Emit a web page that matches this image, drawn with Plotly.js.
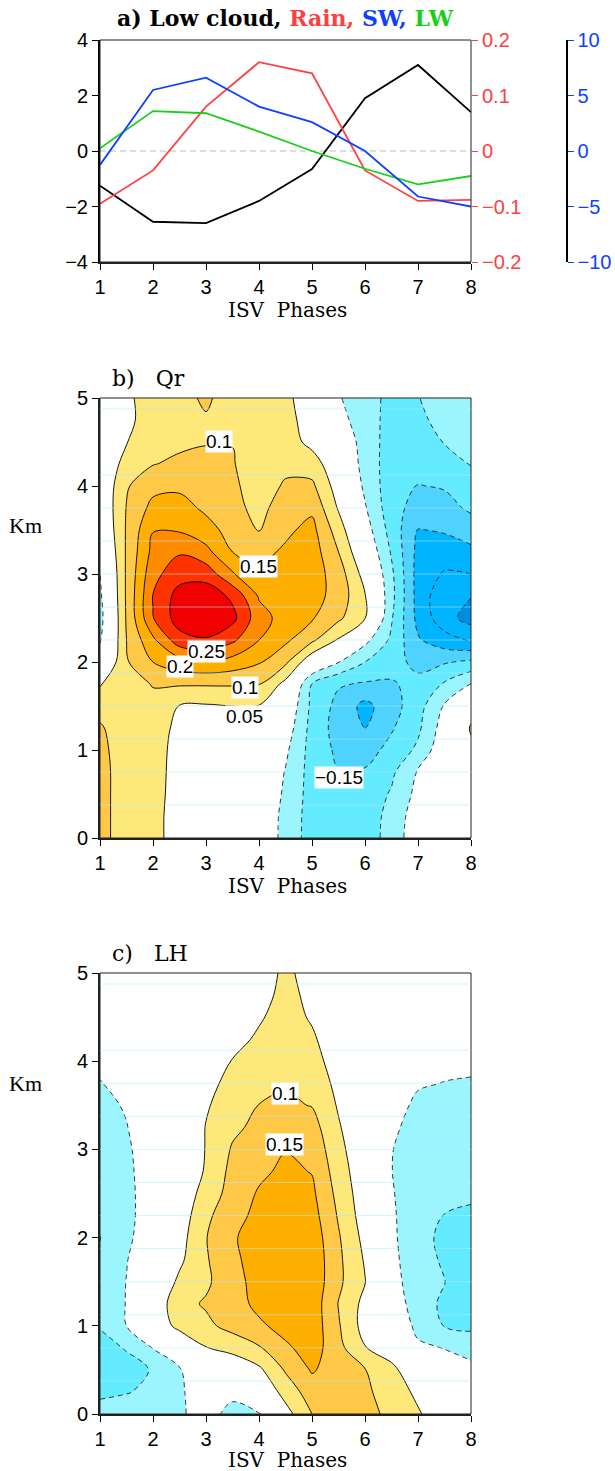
<!DOCTYPE html>
<html><head><meta charset="utf-8">
<script src="https://cdn.plot.ly/plotly-3.0.1.min.js"></script>
<style>html,body{margin:0;padding:0;background:#fff}#chart{width:615px;height:1471px}</style>
</head><body><div id="chart"></div>
<script>
// ---------- panel a data ----------
const phases = [1, 2, 3, 4, 5, 6, 7, 8];
const lowCloud = [-1.25, -2.55, -2.6, -1.8, -0.65, 1.9, 3.1, 1.4];      // left axis
const rain = [-0.095, -0.035, 0.08, 0.16, 0.14, -0.035, -0.09, -0.088]; // red axis
const sw = [-1.25, 5.5, 6.6, 4.0, 2.6, 0.0, -4.1, -5.0];                // blue axis
const lw = [0.25, 3.6, 3.4, 1.75, 0.0, -1.6, -3.0, -2.25];              // blue axis

// ---------- contour grids ----------
const gridPhase = [1, 1.5, 2, 2.5, 3, 3.5, 4, 4.5, 5, 5.5, 6, 6.5, 7, 7.5, 8];
const gridKm = [0, 0.25, 0.5, 0.75, 1, 1.25, 1.5, 1.75, 2, 2.25, 2.5, 2.75, 3, 3.25, 3.5, 3.75, 4, 4.25, 4.5, 4.75, 5];

// Qr profiles, one list per phase column (values from 0 km to 5 km)
const qrProfiles = [
 [0.12,0.12,0.12,0.12,0.115,0.105,0.085,0.045,-0.02,-0.055,-0.07,-0.06,-0.052,-0.03,-0.01,0.0,0.0,0.0,0.0,0.0,0.0],
 [0.07,0.07,0.07,0.07,0.07,0.075,0.08,0.085,0.095,0.1,0.105,0.107,0.107,0.106,0.105,0.102,0.095,0.07,0.048,0.04,0.044],
 [0.085,0.085,0.085,0.085,0.085,0.088,0.09,0.102,0.15,0.19,0.248,0.252,0.235,0.215,0.198,0.165,0.135,0.098,0.08,0.07,0.065],
 [0.0,0.0,0.01,0.015,0.02,0.03,0.048,0.105,0.18,0.28,0.325,0.32,0.28,0.245,0.195,0.17,0.14,0.11,0.09,0.085,0.09],
 [0.02,0.02,0.02,0.02,0.025,0.03,0.045,0.105,0.195,0.295,0.34,0.33,0.28,0.215,0.17,0.14,0.125,0.11,0.098,0.097,0.105],
 [0.02,0.02,0.02,0.02,0.025,0.035,0.05,0.105,0.18,0.26,0.315,0.29,0.205,0.15,0.13,0.115,0.108,0.103,0.099,0.09,0.085],
 [0.0,0.0,0.005,0.01,0.015,0.03,0.048,0.102,0.155,0.2,0.22,0.195,0.16,0.135,0.098,0.085,0.08,0.075,0.072,0.068,0.062],
 [-0.07,-0.068,-0.06,-0.053,-0.04,-0.02,0.0,0.035,0.11,0.16,0.18,0.18,0.17,0.158,0.14,0.125,0.105,0.09,0.075,0.065,0.058],
 [-0.12,-0.12,-0.12,-0.12,-0.12,-0.118,-0.112,-0.1,0.01,0.11,0.155,0.17,0.175,0.175,0.165,0.14,0.11,0.075,0.035,0.03,0.03],
 [-0.13,-0.135,-0.14,-0.148,-0.16,-0.17,-0.165,-0.145,-0.048,0.045,0.11,0.13,0.125,0.1,0.075,0.045,0.025,0.01,0.0,-0.03,-0.045],
 [-0.12,-0.125,-0.13,-0.145,-0.17,-0.2,-0.215,-0.155,-0.1,-0.035,0.052,0.053,0.03,0.0,-0.025,-0.045,-0.06,-0.07,-0.075,-0.08,-0.085],
 [-0.085,-0.085,-0.095,-0.11,-0.135,-0.155,-0.17,-0.155,-0.13,-0.11,-0.095,-0.085,-0.09,-0.105,-0.12,-0.13,-0.13,-0.125,-0.12,-0.115,-0.11],
 [-0.01,-0.02,-0.035,-0.045,-0.09,-0.11,-0.12,-0.135,-0.165,-0.195,-0.215,-0.22,-0.22,-0.215,-0.202,-0.17,-0.152,-0.13,-0.12,-0.11,-0.102],
 [0.0,0.0,0.0,-0.005,-0.01,-0.025,-0.045,-0.095,-0.155,-0.23,-0.28,-0.285,-0.255,-0.225,-0.195,-0.17,-0.145,-0.12,-0.098,-0.085,-0.075],
 [0.02,0.02,0.025,0.03,0.04,0.055,0.03,-0.048,-0.14,-0.255,-0.32,-0.298,-0.25,-0.21,-0.18,-0.14,-0.12,-0.098,-0.085,-0.075,-0.07]
];

// LH profiles, one list per phase column (values from 0 km to 5 km)
const lhProfiles = [
 [-0.09,-0.105,-0.115,-0.11,-0.098,-0.09,-0.09,-0.095,-0.101,-0.095,-0.09,-0.085,-0.08,-0.075,-0.065,-0.052,-0.04,-0.03,-0.025,-0.02,-0.02],
 [-0.08,-0.102,-0.11,-0.098,-0.05,-0.048,-0.049,-0.052,-0.06,-0.065,-0.065,-0.062,-0.058,-0.052,-0.045,-0.035,-0.025,-0.02,-0.015,-0.01,-0.01],
 [-0.075,-0.092,-0.098,-0.048,0.0,0.01,0.0,-0.015,-0.02,-0.02,-0.02,-0.02,-0.02,-0.015,-0.01,-0.01,-0.01,-0.005,0.0,0.0,0.0],
 [-0.06,-0.065,-0.055,-0.02,0.07,0.085,0.06,0.04,0.03,0.02,0.015,0.01,0.01,0.0,0.0,0.0,0.0,0.0,0.0,0.0,0.0],
 [-0.02,0.01,0.025,0.048,0.09,0.105,0.092,0.095,0.098,0.09,0.07,0.055,0.052,0.052,0.045,0.035,0.025,0.015,0.01,0.005,0.0],
 [-0.075,-0.03,0.0,0.07,0.115,0.125,0.13,0.14,0.145,0.13,0.12,0.115,0.105,0.09,0.075,0.065,0.052,0.035,0.025,0.015,0.01],
 [-0.055,0.0,0.04,0.095,0.14,0.165,0.17,0.17,0.17,0.165,0.155,0.14,0.125,0.112,0.101,0.085,0.07,0.057,0.045,0.035,0.03],
 [0.03,0.07,0.105,0.14,0.17,0.185,0.19,0.19,0.185,0.18,0.17,0.16,0.148,0.128,0.108,0.095,0.085,0.075,0.068,0.062,0.058],
 [0.1,0.125,0.155,0.175,0.18,0.18,0.185,0.185,0.18,0.17,0.16,0.148,0.135,0.12,0.098,0.085,0.07,0.057,0.045,0.04,0.035],
 [0.13,0.13,0.125,0.115,0.105,0.098,0.11,0.11,0.105,0.095,0.085,0.075,0.065,0.055,0.045,0.035,0.025,0.02,0.015,0.01,0.005],
 [0.12,0.11,0.102,0.052,0.03,0.035,0.052,0.045,0.035,0.025,0.02,0.015,0.01,0.005,0.0,0.0,-0.005,-0.01,-0.01,-0.01,-0.01],
 [0.085,0.075,0.06,0.03,0.0,-0.02,-0.03,-0.035,-0.04,-0.042,-0.046,-0.049,-0.048,-0.04,-0.03,-0.02,-0.015,-0.01,-0.01,-0.01,-0.01],
 [0.055,0.04,0.02,-0.04,-0.065,-0.075,-0.08,-0.085,-0.085,-0.085,-0.08,-0.078,-0.075,-0.07,-0.06,-0.045,-0.035,-0.03,-0.025,-0.02,-0.02],
 [0.02,0.01,-0.01,-0.052,-0.102,-0.11,-0.099,-0.105,-0.11,-0.101,-0.09,-0.085,-0.08,-0.075,-0.065,-0.051,-0.04,-0.035,-0.03,-0.025,-0.025],
 [0.0,-0.01,-0.035,-0.07,-0.11,-0.12,-0.12,-0.12,-0.115,-0.105,-0.095,-0.09,-0.085,-0.075,-0.065,-0.052,-0.045,-0.04,-0.035,-0.03,-0.03]
];

// contour label texts and positions (phase, km)
const qrLabels = [
 {t: '0.1', x: 3.25, y: 4.5}, {t: '0.15', x: 3.99, y: 3.08}, {t: '0.2', x: 2.5, y: 1.95},
 {t: '0.25', x: 3.0, y: 2.12}, {t: '0.1', x: 3.73, y: 1.71}, {t: '0.05', x: 3.73, y: 1.38},
 {t: '\u22120.15', x: 5.51, y: 0.69}
];
const lhLabels = [{t: '0.1', x: 4.49, y: 3.63}, {t: '0.15', x: 4.49, y: 3.05}];
const faintLevels = [0.375, 0.75, 1.125, 1.5, 1.875, 2.25, 2.625, 3.0, 3.375, 3.75, 4.125, 4.875];

// ---------- styling ----------
const bandColors = [
 'rgb(0,140,225)', 'rgb(0,180,255)', 'rgb(0,180,255)', 'rgb(80,210,255)', 'rgb(100,235,255)', 'rgb(155,245,255)',
 'rgb(255,255,255)', 'rgb(255,255,255)',
 'rgb(255,232,122)', 'rgb(255,200,70)', 'rgb(255,175,0)', 'rgb(255,140,0)', 'rgb(255,50,0)', 'rgb(240,0,0)'
];
const nB = bandColors.length;
const colorscale = [];
bandColors.forEach((c, k) => {
  const a = k === 0 ? 0 : (k - 0.5) / (nB - 1);
  const b = k === nB - 1 ? 1 : (k + 0.5) / (nB - 1);
  colorscale.push([a, c]); colorscale.push([b, c]);
});

const tickFont = {family: 'Liberation Sans Narrow, Liberation Sans, Arial Narrow, sans-serif', size: 20, color: '#000'};
const serifFont = 'DejaVu Serif, Liberation Serif, serif';
const W = 615, H = 1471;
const px = v => v / W, py = v => 1 - v / H;
const xDom = [px(100), px(471)];

function fillTrace(prof, xa, ya) {
  return {type: 'contour', x: gridPhase, y: gridKm, z: prof, transpose: true, xaxis: xa, yaxis: ya,
    colorscale: colorscale, showscale: false, hoverinfo: 'skip',
    contours: {start: -0.3, end: 0.3, size: 0.05, coloring: 'fill', showlines: false},
    line: {width: 0}};
}
function lineTrace(prof, xa, ya, lo, hi, dash) {
  return {type: 'contour', x: gridPhase, y: gridKm, z: prof, transpose: true, xaxis: xa, yaxis: ya,
    showscale: false, hoverinfo: 'skip',
    contours: {start: lo, end: hi, size: 0.05, coloring: 'none'},
    line: {color: dash ? '#222' : '#000', width: 0.9, dash: dash ? '5px,4px' : 'solid'}};
}

const traces = [
  {x: phases, y: phases.map(() => 0), mode: 'lines', line: {color: '#bbb', width: 1.2, dash: '6px,4px'}, xaxis: 'x', yaxis: 'y', hoverinfo: 'skip'},
  {x: phases, y: lw, mode: 'lines', line: {color: '#18d018', width: 1.8}, xaxis: 'x', yaxis: 'y3'},
  {x: phases, y: sw, mode: 'lines', line: {color: '#1040ff', width: 1.8}, xaxis: 'x', yaxis: 'y3'},
  {x: phases, y: rain, mode: 'lines', line: {color: '#ff4040', width: 1.8}, xaxis: 'x', yaxis: 'y2'},
  {x: phases, y: lowCloud, mode: 'lines', line: {color: '#000', width: 1.8}, xaxis: 'x', yaxis: 'y'},
  fillTrace(qrProfiles, 'x2', 'y4'),
  lineTrace(qrProfiles, 'x2', 'y4', 0.05, 0.3, false),
  lineTrace(qrProfiles, 'x2', 'y4', -0.3, -0.05, true),
  fillTrace(lhProfiles, 'x3', 'y5'),
  lineTrace(lhProfiles, 'x3', 'y5', 0.05, 0.3, false),
  lineTrace(lhProfiles, 'x3', 'y5', -0.3, -0.05, true)
];

function xAxis(anchor) {
  return {domain: xDom, anchor: anchor, range: [1, 8], tickvals: phases, ticks: 'outside', ticklen: 6,
    tickcolor: '#000', showgrid: false, zeroline: false, showline: true, linewidth: 2, linecolor: '#222',
    tickfont: tickFont, fixedrange: true};
}
function kmAxis(top, bottom, anchor) {
  return {domain: [py(bottom), py(top)], anchor: anchor, range: [0, 5], dtick: 1, ticks: 'outside', ticklen: 6,
    tickcolor: '#000', showgrid: false, zeroline: false, showline: true, linewidth: 2, linecolor: '#222',
    tickfont: tickFont, fixedrange: true};
}

const ann = [];
ann.push({xref: 'paper', yref: 'paper', x: px(285), y: py(18), xanchor: 'center', yanchor: 'middle', showarrow: false,
  text: '<b>a)\u00a0Low\u00a0cloud,\u00a0<span style="color:#ff4040">Rain,</span>\u00a0<span style="color:#1040ff">SW,</span>\u00a0<span style="color:#18d018">LW</span></b>',
  font: {family: serifFont, size: 22, color: '#000'}});
[310, 886, 1460].forEach(y => ann.push({xref: 'paper', yref: 'paper', x: px(287), y: py(y), xanchor: 'center', yanchor: 'middle',
  showarrow: false, text: 'ISV\u00a0 Phases', font: {family: serifFont, size: 20, color: '#000'}}));
ann.push({xref: 'paper', yref: 'paper', x: px(110), y: py(378), xanchor: 'left', yanchor: 'middle', showarrow: false, text: 'b)\u00a0\u00a0 Qr', font: {family: serifFont, size: 22, color: '#000'}});
ann.push({xref: 'paper', yref: 'paper', x: px(110), y: py(953), xanchor: 'left', yanchor: 'middle', showarrow: false, text: 'c)\u00a0\u00a0 LH', font: {family: serifFont, size: 22, color: '#000'}});
[525, 1083].forEach(y => ann.push({xref: 'paper', yref: 'paper', x: px(25), y: py(y), xanchor: 'center', yanchor: 'middle', showarrow: false,
  text: 'Km', font: {family: 'Liberation Serif, Times New Roman, serif', size: 22, color: '#000'}}));
const labFont = {family: 'Liberation Sans Narrow, Liberation Sans, sans-serif', size: 19, color: '#000'};
qrLabels.forEach(l => ann.push({xref: 'x2', yref: 'y4', x: l.x, y: l.y, text: l.t, showarrow: false, bgcolor: '#fff', borderpad: 0, font: labFont}));
lhLabels.forEach(l => ann.push({xref: 'x3', yref: 'y5', x: l.x, y: l.y, text: l.t, showarrow: false, bgcolor: '#fff', borderpad: 0, font: labFont}));

const shapes = [];
[['x', 'y'], ['x2', 'y4'], ['x3', 'y5']].forEach(([xa, ya]) => shapes.push({type: 'rect', xref: xa + ' domain', yref: ya + ' domain',
  x0: 0, x1: 1, y0: 0, y1: 1, line: {color: '#222', width: 1}, layer: 'above'}));
[['x2', 'y4'], ['x3', 'y5']].forEach(([xa, ya]) => faintLevels.forEach(h => shapes.push({type: 'line', xref: xa + ' domain', yref: ya,
  x0: 0, x1: 1, y0: h, y1: h, line: {color: 'rgba(170,235,255,0.55)', width: 1}, layer: 'above'})));

const layout = {
  width: W, height: H, margin: {l: 0, r: 0, t: 0, b: 0}, paper_bgcolor: '#fff', plot_bgcolor: 'rgba(0,0,0,0)',
  showlegend: false, hovermode: false,
  xaxis: xAxis('y'),
  yaxis: {domain: [py(262), py(40)], anchor: 'x', range: [-4, 4], dtick: 2, ticks: 'outside', ticklen: 6, tickcolor: '#000',
    showgrid: false, zeroline: false, showline: true, linewidth: 2, linecolor: '#000', tickfont: tickFont, fixedrange: true},
  yaxis2: {overlaying: 'y', anchor: 'x', side: 'right', range: [-0.2, 0.2], dtick: 0.1, ticks: 'outside', ticklen: 6,
    tickcolor: '#ff4040', showgrid: false, zeroline: false, showline: false, tickfont: Object.assign({}, tickFont, {color: '#ff4040'}), fixedrange: true},
  yaxis3: {overlaying: 'y', anchor: 'free', position: px(566), side: 'right', range: [-10, 10], dtick: 5, ticks: 'outside', ticklen: 6,
    tickcolor: '#1040ff', showgrid: false, zeroline: false, showline: true, linewidth: 1.5, linecolor: '#000',
    tickfont: Object.assign({}, tickFont, {color: '#1040ff'}), fixedrange: true},
  xaxis2: xAxis('y4'),
  yaxis4: kmAxis(398, 838, 'x2'),
  xaxis3: xAxis('y5'),
  yaxis5: kmAxis(973, 1414, 'x3'),
  annotations: ann, shapes: shapes
};

Plotly.newPlot('chart', traces, layout, {staticPlot: true, displayModeBar: false});
</script></body></html>
